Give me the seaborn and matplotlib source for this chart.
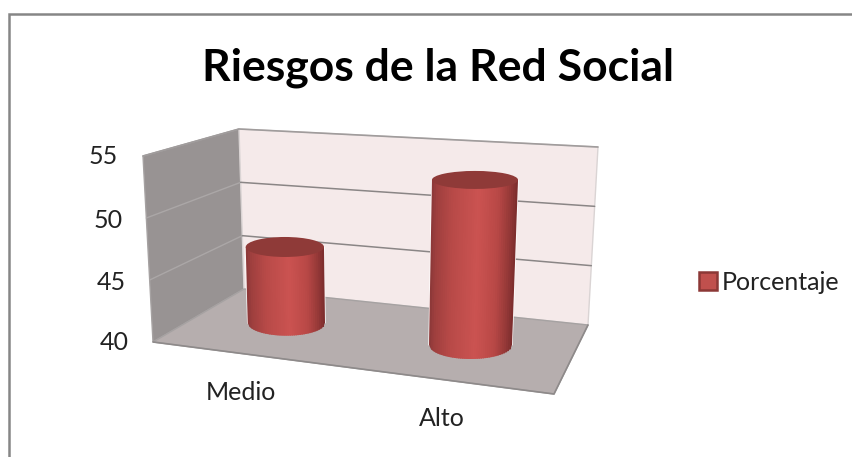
import matplotlib
matplotlib.use("Agg")
import matplotlib.pyplot as plt
import numpy as np
import pandas as pd
import seaborn as sns
from matplotlib.collections import PolyCollection
from matplotlib.patches import Ellipse, Patch, Polygon
from matplotlib.transforms import Affine2D, Transform

# Chart data
categories = ["Medio", "Alto"]
values = [46, 54]
series_name = "Porcentaje"
y_ticks = [40, 45, 50, 55]
title = "Riesgos de la Red Social"

# Oblique view of the chart box, in image pixels
W, H = 852, 457
Y_MIN, Y_MAX = y_ticks[0], y_ticks[-1]
side_front = ((153, 342), (143, 156))
side_back = ((244, 289), (239, 129))
back_right = ((588, 325), (598, 147))
floor_front_right = (554, 394)

# Per-cylinder perspective: foot position, pixels per unit, lean per unit, ellipse radii
foot_left = [247.7, 429.0]
foot_right = [325.0, 512.0]
foot_y = [323.0, 345.0]
unit_px = [12.67, 11.79]
lean_left = [-0.33, 0.21]
lean_right = [-0.17, 0.43]
rim_radius = [10.0, 9.0]
foot_radius = [12.7, 14.0]

# Horizontal shading of the cylinder wall
shade_pos = [0.0, 0.06, 0.25, 0.55, 0.78, 0.92, 1.0]
shade_rgb = np.array([[138, 56, 56], [158, 63, 62], [184, 74, 72], [203, 83, 81],
                      [184, 72, 70], [148, 56, 55], [122, 44, 44]]) / 255
RED, RED_TOP, RED_EDGE = "#C0504D", "#8F3A38", "#8C3836"

image_px = Affine2D().scale(1, -1).translate(0, H)


def lerp(a, b, t):
    return np.asarray(a, float) + (np.asarray(b, float) - np.asarray(a, float)) * t


def level(edge, value):
    return lerp(edge[0], edge[1], (value - Y_MIN) / (Y_MAX - Y_MIN))


class CylinderProjection(Transform):
    """Maps a bar's (x, value) coordinates onto its cylinder wall on screen."""
    input_dims = output_dims = 2

    def __init__(self, x0, width, i):
        super().__init__()
        self.x0, self.width, self.i = x0, width, i

    def corners(self, u, value):
        i = self.i
        dv = value - Y_MIN
        left = foot_left[i] + lean_left[i] * dv
        right = foot_right[i] + lean_right[i] * dv
        return left + (right - left) * u, foot_y[i] - unit_px[i] * dv

    def transform_non_affine(self, pts):
        pts = np.asarray(pts, float)
        u = (pts[:, 0] - self.x0) / self.width
        px, py = self.corners(u, np.clip(pts[:, 1], Y_MIN, None))
        return np.column_stack([px, H - py])


sns.set_theme(style="white")
plt.rcParams["font.family"] = ["Lato", "DejaVu Sans"]

fig = plt.figure(figsize=(W / 100, H / 100), dpi=100, facecolor="white")
ax = fig.add_axes([0, 0, 1, 1])

df = pd.DataFrame({"Nivel": categories, series_name: values})
sns.barplot(data=df, x="Nivel", y=series_name, color=RED, saturation=1,
            width=0.8, zorder=3, ax=ax)
ax.set_ylim(Y_MIN, Y_MAX)
ax.set_axis_off()

# Walls and floor
walls = [
    ([side_front[0], side_back[0], side_back[1], side_front[1]], "#989393", "#A6A2A2"),
    ([side_back[0], back_right[0], back_right[1], side_back[1]], "#F5EAEA", "#DAD4D4"),
    ([side_front[0], side_back[0], back_right[0], floor_front_right], "#B6AEAE", "#A6A2A2"),
]
for verts, face, edge in walls:
    ax.add_patch(Polygon(verts, closed=True, facecolor=face, edgecolor=edge,
                         linewidth=1.0, transform=image_px, zorder=1))
ax.plot(*zip(side_front[0], floor_front_right, back_right[0]), color="#8E8A8A",
        linewidth=1.2, transform=image_px, zorder=1.5)
ax.plot(*zip(side_front[1], side_back[1], back_right[1]), color="#A09C9C",
        linewidth=1.2, transform=image_px, zorder=1.5)

# Gridlines follow the tick values across both walls
for tick in y_ticks[1:-1]:
    a, b, c = level(side_front, tick), level(side_back, tick), level(back_right, tick)
    ax.plot(*zip(a, b), color="#ABA7A7", linewidth=1.0, transform=image_px, zorder=2)
    ax.plot(*zip(b, c), color="#8A8686", linewidth=1.1, transform=image_px, zorder=2)

# Each seaborn bar becomes a shaded cylinder
for i, bar in enumerate(ax.patches[:len(values)]):
    value = bar.get_height()
    proj = CylinderProjection(bar.get_x(), bar.get_width(), i)
    bar.set_transform(proj)

    edges = np.linspace(0, 1, 41)
    strips, colors = [], []
    for u0, u1 in zip(edges[:-1], edges[1:]):
        tx0, ty = proj.corners(u0, value)
        tx1, _ = proj.corners(u1, value)
        bx0, by = proj.corners(u0, Y_MIN)
        bx1, _ = proj.corners(u1, Y_MIN)
        arc0 = foot_radius[i] * np.sqrt(max(0, 1 - (2 * u0 - 1) ** 2))
        arc1 = foot_radius[i] * np.sqrt(max(0, 1 - (2 * u1 - 1) ** 2))
        # Each strip runs a little under its right neighbour so no seams show
        overlap = (tx1 - tx0) * 0.5
        strips.append([(tx0, ty), (tx1 + overlap, ty), (bx1 + overlap, by + arc1),
                       (bx1, by + arc1), (bx0, by + arc0)])
        um = (u0 + u1) / 2
        colors.append([np.interp(um, shade_pos, shade_rgb[:, k]) for k in range(3)])
    strips[-1] = strips[-1][:1] + [(proj.corners(1, value)[0], strips[-1][0][1]),
                                   strips[-1][3], strips[-1][4]]
    ax.add_collection(PolyCollection(strips, facecolors=colors, edgecolors="none",
                                     transform=image_px, zorder=4),
                      autolim=False)

    lx, ty = proj.corners(0, value)
    rx, _ = proj.corners(1, value)
    ax.add_patch(Ellipse(((lx + rx) / 2, ty), rx - lx, 2 * rim_radius[i],
                         facecolor=RED_TOP, edgecolor="none",
                         transform=image_px, zorder=5))

# Value axis labels sit along the front edge of the side wall
label_right = {40: 129, 45: 126, 50: 123, 55: 118}
label_y = {40: 342, 45: 283, 50: 221, 55: 157}
for tick in y_ticks:
    ax.text(label_right[tick], label_y[tick], str(tick), ha="right", va="center",
            fontsize=18, color="#222222", transform=image_px)

# Category labels below the floor
label_pos = [(241, 393), (442, 418)]
for name, (x, y) in zip(categories, label_pos):
    ax.text(x, y, name, ha="center", va="center", fontsize=18, color="#222222",
            transform=image_px)

ax.text(437.5, 68, title, ha="center", va="center", fontsize=32, fontweight="bold",
        color="black", transform=image_px)

handle = Patch(facecolor=RED, edgecolor=RED_EDGE, linewidth=1.8, label=series_name)
ax.legend(handles=[handle], frameon=False, fontsize=18, loc="center left",
          bbox_to_anchor=(699 / W, 1 - 282 / H), bbox_transform=fig.transFigure,
          handlelength=0.72, handleheight=0.72, handletextpad=0.2, borderpad=0,
          borderaxespad=0, labelcolor="#222222")

# Chart area border: top and left edges only reach the frame of the image
ax.plot([9, 9, W], [H, 14, 14], color="#868686", linewidth=1.8, transform=image_px,
        zorder=6, solid_joinstyle="miter")

ax.set_xlim(-1.5, 3.0)
ax.set_ylim(Y_MIN, Y_MAX)
fig.savefig("out.png", dpi=100, facecolor="white")
